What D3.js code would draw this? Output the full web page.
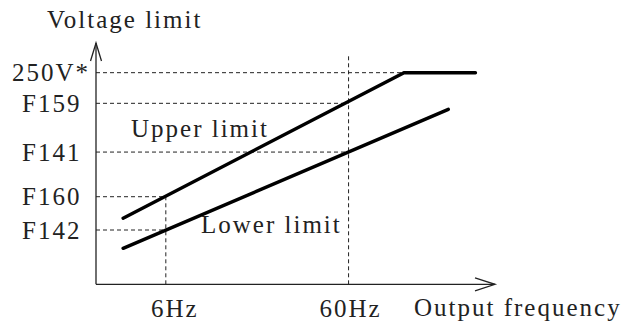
<!DOCTYPE html>
<html>
<head>
<meta charset="utf-8">
<script src="https://cdn.jsdelivr.net/npm/d3@7"></script>
<style>
  html, body { margin: 0; padding: 0; background: #fff; }
  svg text { font-family: "Liberation Serif", "DejaVu Serif", serif; font-size: 25px; letter-spacing: 2px; fill: #222; }
</style>
</head>
<body>
<svg id="chart" width="621" height="325"></svg>
<script>
// ---- data (schematic units, 0..100 on each axis) ----
const yTickLabels = ["250V*", "F159", "F141", "F160", "F142"];
const yTickValues = [87.7, 75.0, 54.8, 36.3, 22.5];
const xTickLabels = ["6Hz", "60Hz"];
const xTickValues = [17.5, 63.3];
const seriesNames = ["Upper limit", "Lower limit"];
const upperX = [6.8, 77.2, 95.1];
const upperY = [27.4, 87.7, 87.7];
const lowerX = [6.8, 88.3];
const lowerY = [14.9, 72.5];
// dashed guide lines: horizontal guides run from axis to xEnd; vertical guides from axis to yEnd
const hGuideEnd = [77.2, 63.3, 63.3, 17.5, 17.5];
const vGuideEnd = [36.3, 95.4];
const axisTitles = ["Voltage limit", "Output frequency"];

const svg = d3.select("#chart");
const x = d3.scaleLinear().domain([0, 100]).range([96, 495]);
const y = d3.scaleLinear().domain([0, 100]).range([284.3, 43]);

// guides
const dash = "4,3";
yTickValues.forEach((v, i) => {
  svg.append("line")
    .attr("x1", x(0)).attr("x2", x(hGuideEnd[i]))
    .attr("y1", y(v)).attr("y2", y(v))
    .attr("stroke", "#222").attr("stroke-width", 1).attr("stroke-dasharray", dash);
});
xTickValues.forEach((v, i) => {
  svg.append("line")
    .attr("x1", x(v)).attr("x2", x(v))
    .attr("y1", y(0)).attr("y2", y(vGuideEnd[i]))
    .attr("stroke", "#222").attr("stroke-width", 1).attr("stroke-dasharray", dash);
});

// axes
const axisG = svg.append("g").attr("stroke", "#222").attr("stroke-width", 1.3).attr("fill", "none");
axisG.append("line").attr("x1", x(0)).attr("x2", x(0)).attr("y1", y(0)).attr("y2", y(100));
axisG.append("line").attr("x1", x(0)).attr("x2", x(100)).attr("y1", y(0)).attr("y2", y(0));
axisG.append("path").attr("d", `M${x(0)-5.5},${y(100)+18}L${x(0)},${y(100)}L${x(0)+5.5},${y(100)+18}`);
axisG.append("path").attr("d", `M${x(100)-20},${y(0)-6.5}L${x(100)},${y(0)}L${x(100)-20},${y(0)+6.5}`);

// series lines
const line = d3.line().x(d => x(d[0])).y(d => y(d[1]));
[[upperX, upperY], [lowerX, lowerY]].forEach(([xs, ys]) => {
  svg.append("path")
    .datum(xs.map((v, i) => [v, ys[i]]))
    .attr("d", line)
    .attr("fill", "none").attr("stroke", "#000").attr("stroke-width", 3.4)
    .attr("stroke-linecap", "round").attr("stroke-linejoin", "miter");
});

// y tick labels
yTickLabels.forEach((t, i) => {
  const star = t.endsWith("*");
  svg.append("text").attr("x", star ? 90 : 81.5).attr("y", y(yTickValues[i]) + 8.5)
    .attr("text-anchor", "end").text(t);
});

// x tick labels
const xOff = [8, 1];
xTickLabels.forEach((t, i) => {
  svg.append("text").attr("x", x(xTickValues[i]) + xOff[i] + 1).attr("y", 317)
    .attr("text-anchor", "middle").text(t);
});

// axis titles
svg.append("text").attr("x", 47).attr("y", 28).text(axisTitles[0]);
svg.append("text").attr("x", 414).attr("y", 316).text(axisTitles[1]);

// series labels
svg.append("text").attr("x", 131).attr("y", 137).text(seriesNames[0]);
svg.append("text").attr("x", 201).attr("y", 233).text(seriesNames[1]);
</script>
</body>
</html>
